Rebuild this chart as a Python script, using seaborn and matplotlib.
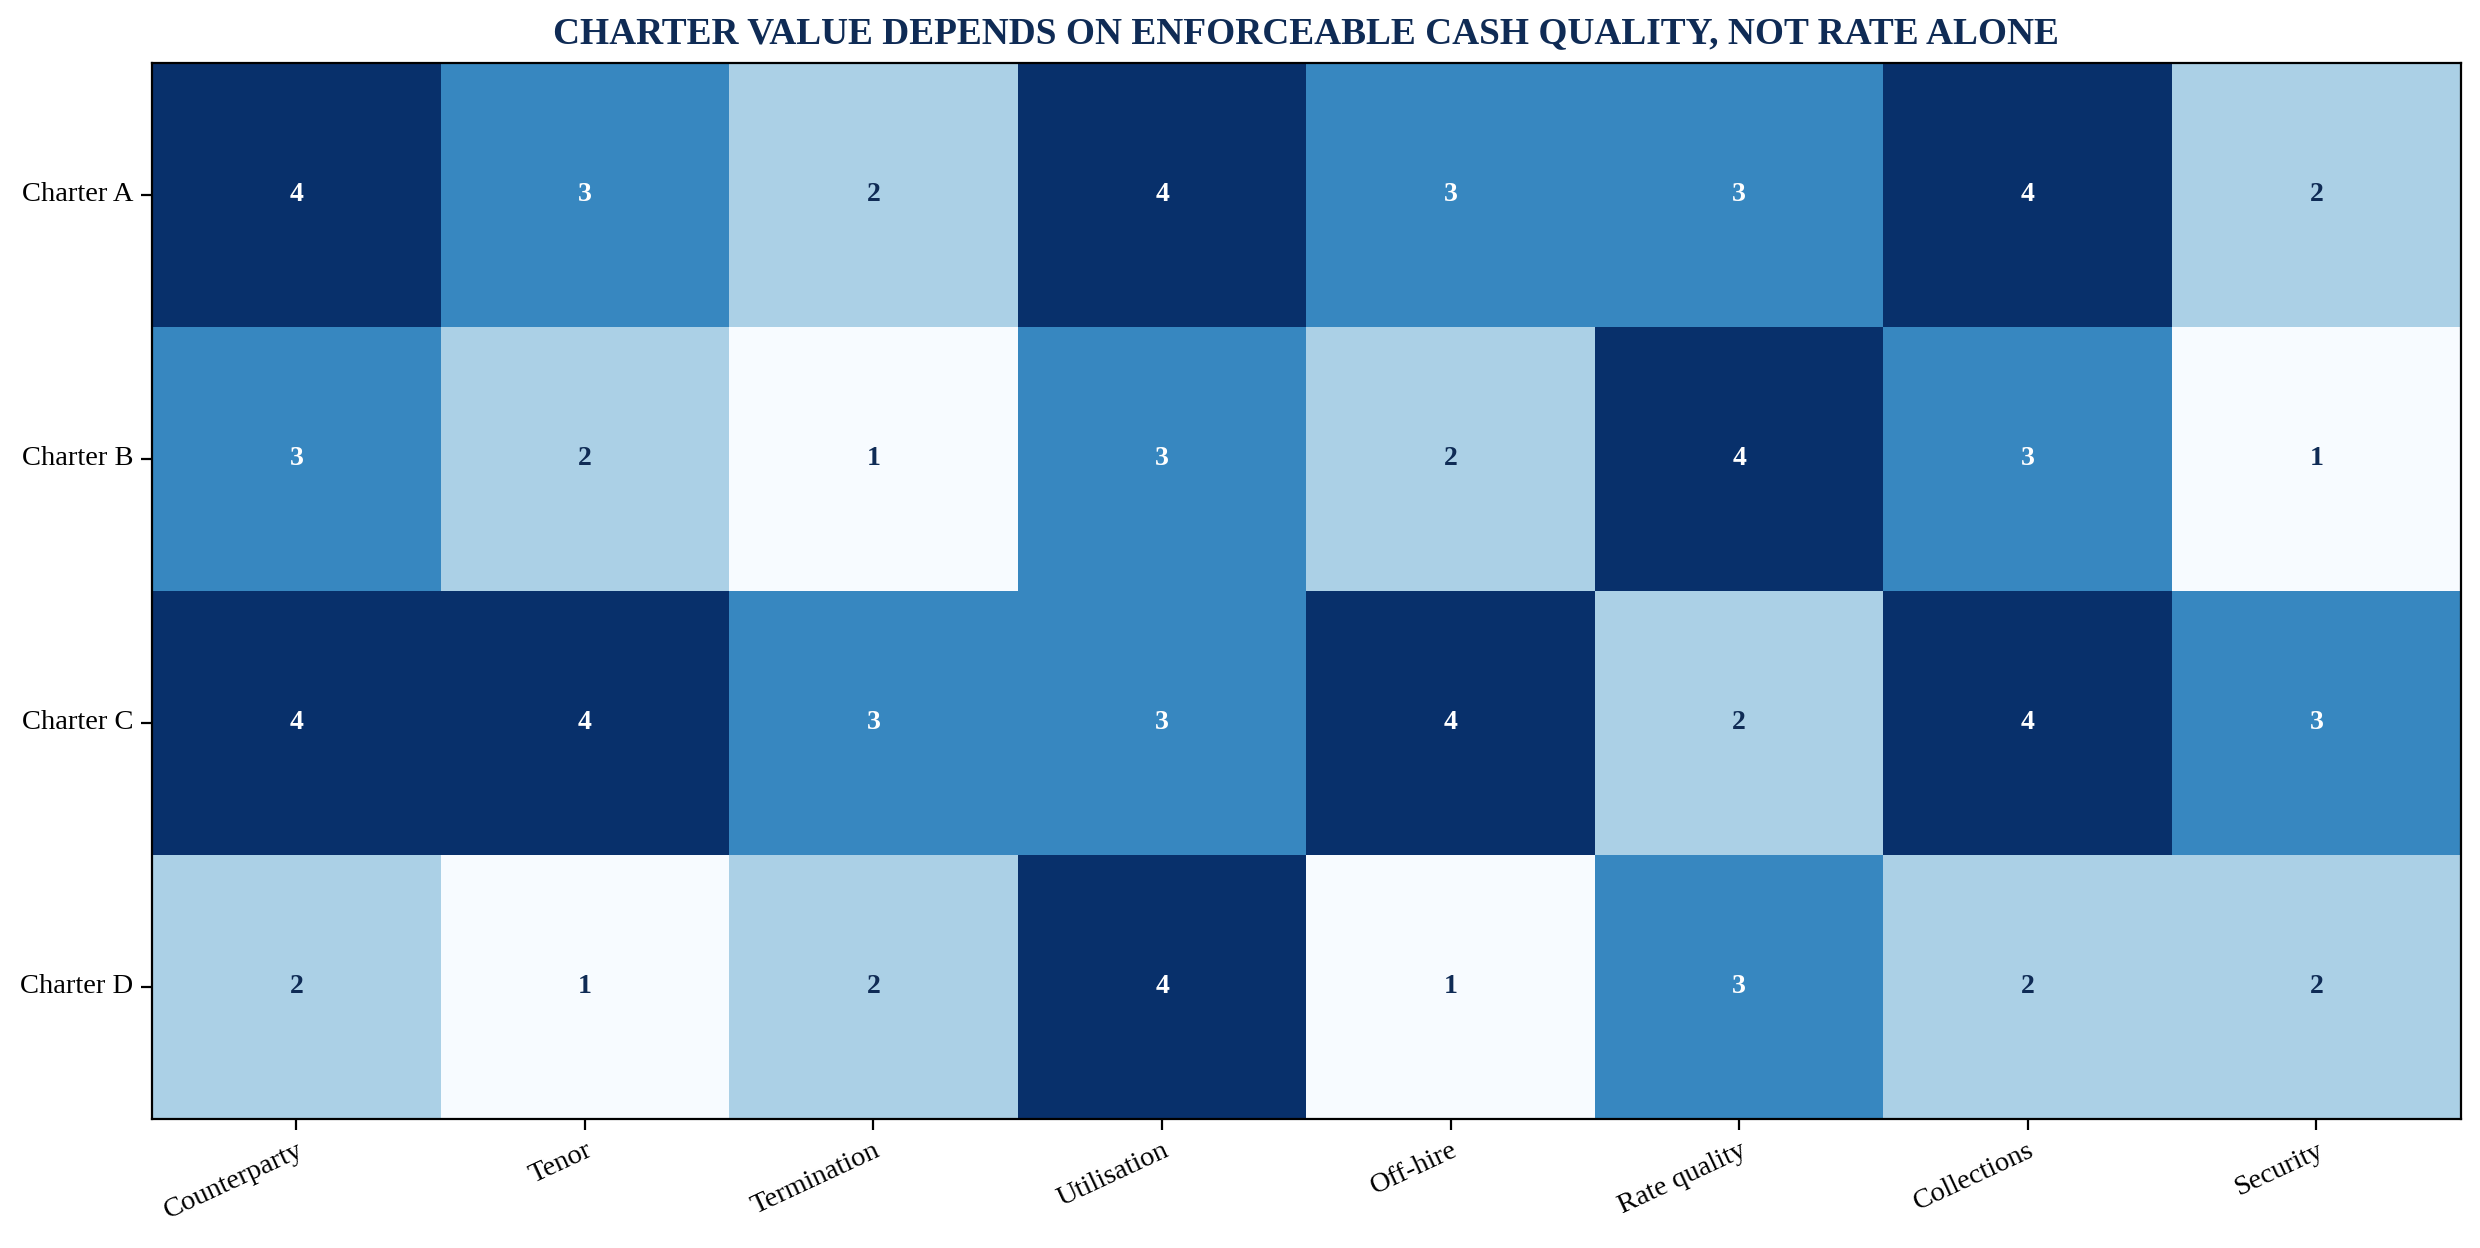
import matplotlib
matplotlib.use("Agg")
import matplotlib.pyplot as plt
import seaborn as sns
import pandas as pd
import numpy as np

charters = ["Charter A", "Charter B", "Charter C", "Charter D"]
factors = ["Counterparty", "Tenor", "Termination", "Utilisation",
           "Off-hire", "Rate quality", "Collections", "Security"]
charter_a = [4, 3, 2, 4, 3, 3, 4, 2]
charter_b = [3, 2, 1, 3, 2, 4, 3, 1]
charter_c = [4, 4, 3, 3, 4, 2, 4, 3]
charter_d = [2, 1, 2, 4, 1, 3, 2, 2]

navy = "#0f2b55"

sns.set_theme(style="white")
plt.rcParams["font.family"] = ["Liberation Serif", "DejaVu Serif"]

df = pd.DataFrame([charter_a, charter_b, charter_c, charter_d],
                  index=charters, columns=factors)

fig = plt.figure(figsize=(15.506, 7.8), dpi=160)
ax = fig.add_axes([0.0613, 0.1034, 0.9305, 0.8462])

sns.heatmap(df, ax=ax, cmap="Blues", vmin=1, vmax=4, cbar=False,
            annot=True, fmt="d",
            annot_kws={"fontsize": 12.5, "fontweight": "bold"})

# text colour: white on dark cells, navy on light cells
vals = df.values.flatten()
for t, v in zip(ax.texts, vals):
    t.set_color("white" if v >= 3 else navy)

for s in ax.spines.values():
    s.set_visible(True)
    s.set_color("black")
    s.set_linewidth(1.0)

ax.tick_params(axis="both", which="both", length=5, width=1, color="black",
               left=True, bottom=True, labelsize=12.8, labelcolor="black")
ax.set_xticklabels(factors, rotation=25, ha="right", rotation_mode="anchor")
ax.set_yticklabels(charters, rotation=0)
ax.set_xlabel("")
ax.set_ylabel("")
ax.set_title("CHARTER VALUE DEPENDS ON ENFORCEABLE CASH QUALITY, NOT RATE ALONE",
             fontsize=16.8, fontweight="bold", color=navy, pad=9)

fig.savefig("out.png", dpi=160)
